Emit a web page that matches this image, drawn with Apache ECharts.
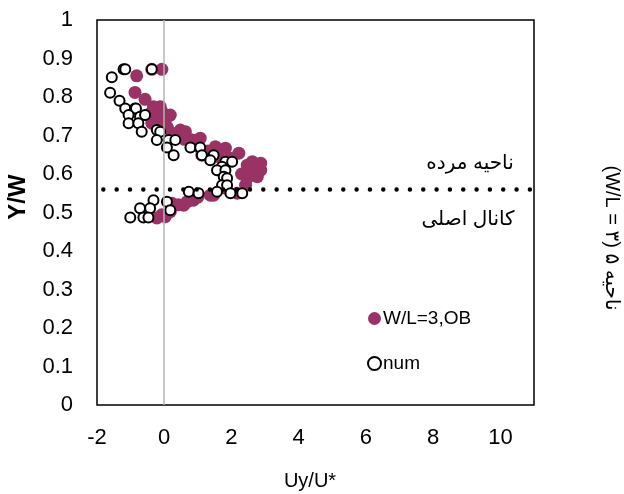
<!DOCTYPE html>
<html>
<head>
<meta charset="utf-8">
<script src="https://cdn.jsdelivr.net/npm/echarts@6/dist/echarts.min.js"></script>
<style>html,body{margin:0;padding:0;background:#fff;}#c{width:624px;height:494px;}</style>
</head>
<body>
<div id="c"></div>
<script>
// Experimental (OB) points
const obX = [-0.82,-0.37,-0.07,-0.87,-0.57,-0.32,-0.12,-0.42,-0.07,0.18,-0.22,0.03,-0.07,-0.37,0.48,0.63,0.38,0.83,1.07,1.02,1.12,1.52,1.82,2.22,1.62,1.97,2.62,2.87,0.23,0.6,-0.17,0.1,1.3,2.47,
             2.87,2.77,2.47,2.6,2.3,2.42,2.17,1.82,1.47,1.37,1.0,0.87,0.68,0.42,0.58,0.23,0.18,-0.07,0.03,-0.22,2.7,2.55];
const obY = [0.855,0.872,0.872,0.812,0.794,0.775,0.775,0.757,0.762,0.753,0.74,0.736,0.723,0.732,0.714,0.71,0.706,0.688,0.693,0.671,0.649,0.671,0.667,0.654,0.645,0.641,0.632,0.628,0.697,0.69,0.714,0.72,0.66,0.623,
             0.61,0.593,0.589,0.61,0.6,0.571,0.55,0.563,0.545,0.545,0.54,0.532,0.528,0.52,0.519,0.524,0.502,0.494,0.489,0.486,0.62,0.6];
// Numerical points
const numX = [-1.56,-1.21,-1.16,-0.37,-1.61,-1.33,-1.16,-0.87,-0.84,-1.06,-0.72,-0.57,-1.06,-0.77,-0.67,-0.22,-0.12,-0.22,0.13,0.33,0.08,0.28,0.78,1.07,1.12,1.47,1.37,1.82,2.02,1.72,1.57,1.82,1.77,1.87,1.72,1.87,1.57,2.32,0.73,1.02,0.08,0.18,-0.32,-0.42,-0.72,-1.01,-0.62,-0.47,1.97];
const numY = [0.851,0.872,0.872,0.872,0.811,0.79,0.77,0.77,0.77,0.753,0.749,0.753,0.732,0.732,0.71,0.714,0.71,0.688,0.688,0.688,0.669,0.649,0.669,0.669,0.649,0.649,0.636,0.632,0.632,0.619,0.61,0.61,0.593,0.589,0.571,0.571,0.554,0.55,0.554,0.55,0.528,0.506,0.532,0.511,0.511,0.487,0.487,0.487,0.55];
const seriesNames = ['W/L=3,OB', 'num'];
const separatorY = [0.56];
const zeroX = [0];
const xTitle = 'Uy/U*';
const yTitle = 'Y/W';
const upperLabel = 'ناحیه مرده';
const lowerLabel = 'كانال اصلی';
const sideLabel = '(W/L = ۳) ۵ ناحیه';

const zip = (xs, ys) => xs.map((x, i) => [x, ys[i]]);
const FONT = '"Liberation Sans", Arial, "DejaVu Sans", sans-serif';

const chart = echarts.init(document.getElementById('c'), null, {renderer: 'canvas'});
chart.setOption({
  animation: false,
  backgroundColor: '#fff',
  grid: {left: 97, top: 20, width: 437, height: 385, show: true, borderColor: '#000', borderWidth: 1.5, containLabel: false},
  xAxis: {
    type: 'value', min: -2, max: 11, interval: 2,
    axisLine: {show: false}, axisTick: {show: false}, splitLine: {show: false},
    axisLabel: {showMaxLabel: false, color: '#000', fontSize: 22, fontFamily: FONT, margin: 22}
  },
  yAxis: {
    type: 'value', min: 0, max: 1, interval: 0.1,
    axisLine: {show: false}, axisTick: {show: false}, splitLine: {show: false},
    axisLabel: {color: '#000', fontSize: 22, fontFamily: FONT, margin: 24}
  },
  legend: {
    orient: 'vertical', left: 362, top: 304, itemWidth: 13, itemHeight: 13, itemGap: 26,
    textStyle: {color: '#000', fontSize: 19, fontFamily: FONT, padding: [0, 0, 0, -3]},
    data: [
      {name: seriesNames[0]},
      {name: seriesNames[1], itemStyle: {borderWidth: 2}, icon: 'circle'}
    ]
  },
  series: [
    {
      name: seriesNames[0], type: 'scatter', symbol: 'circle', symbolSize: 13,
      itemStyle: {color: '#993366', opacity: 1},
      data: zip(obX, obY),
      markLine: {
        silent: true, symbol: 'none', label: {show: false}, animation: false,
        data: [
          [{coord: [zeroX[0], 0], lineStyle: {color: '#b4b4b4', width: 1.5, type: 'solid'}}, {coord: [zeroX[0], 1]}],
          [{coord: [-2, separatorY[0]], lineStyle: {color: '#000', width: 4.5, type: [0, 13.33], cap: 'round', dashOffset: 7}}, {coord: [11, separatorY[0]]}]
        ]
      },
      z: 2
    },
    {
      name: seriesNames[1], type: 'scatter', symbol: 'circle', symbolSize: 10,
      itemStyle: {color: '#fff', borderColor: '#000', borderWidth: 2, opacity: 1},
      data: zip(numX, numY),
      z: 3
    }
  ],
  graphic: [
    {type: 'text', x: 18, y: 197, rotation: Math.PI / 2,
     style: {text: yTitle, x: 0, y: 0, align: 'center', verticalAlign: 'middle', fill: '#000', font: 'bold 24px ' + FONT}},
    {type: 'text', x: 310, y: 481,
     style: {text: xTitle, x: 0, y: 0, align: 'center', verticalAlign: 'middle', fill: '#000', font: '20px ' + FONT}},
    {type: 'text', x: 470, y: 163,
     style: {text: upperLabel, x: 0, y: 0, align: 'center', verticalAlign: 'middle', fill: '#000', font: '20px ' + FONT}},
    {type: 'text', x: 468, y: 219,
     style: {text: lowerLabel, x: 0, y: 0, align: 'center', verticalAlign: 'middle', fill: '#000', font: '20px ' + FONT}},
    {type: 'text', x: 612, y: 238, rotation: -Math.PI / 2,
     style: {text: sideLabel, x: 0, y: 0, align: 'center', verticalAlign: 'middle', fill: '#000', font: '20px ' + FONT}}
  ]
});
</script>
</body>
</html>
